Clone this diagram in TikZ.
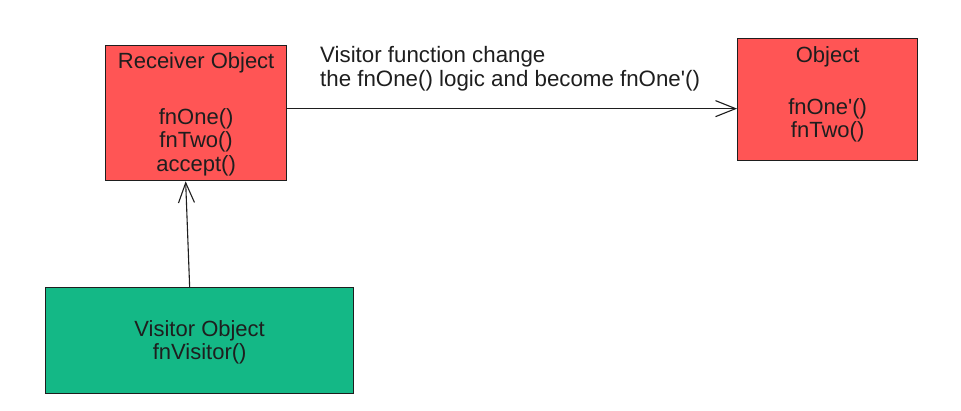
\documentclass[tikz,border=0pt]{standalone}
\usepackage{fontspec}
\setmainfont{Liberation Sans}
\usetikzlibrary{arrows.meta}
\definecolor{boxred}{HTML}{FF5555}
\definecolor{boxgreen}{HTML}{14B886}
\definecolor{ink}{HTML}{1E1E1E}
\begin{document}
\begin{tikzpicture}[x=1pt,y=-1pt,
  box/.style={draw=ink, line width=1.3pt, inner sep=0pt, anchor=north west},
  txt/.style={text=ink, align=center, inner sep=0pt, font=\fontsize{22}{23.5}\selectfont},
  arr/.style={draw=ink, line width=1.1pt, -{Straight Barb[length=20pt,width=16pt]}}]
\fill[white] (0,0) rectangle (961,411);
\useasboundingbox (0,0) rectangle (961,411);
% boxes
\node[box, fill=boxred, minimum width=181pt, minimum height=135pt] (recv) at (105,45) {};
\node[box, fill=boxred, minimum width=180pt, minimum height=122pt] (obj) at (737,38) {};
\node[box, fill=boxgreen, minimum width=308pt, minimum height=106pt] (vis) at (45,287) {};
% box texts
\node[txt, yshift=-1.2pt] (recvtxt) at (recv.center) {Receiver Object\\[32pt]fnOne()\\fnTwo()\\accept()};
\node[txt, yshift=5.3pt] (objtxt) at (obj.center) {Object\\[28.5pt]fnOne\textquotesingle()\\fnTwo()};
\node[txt, yshift=-1.7pt] (vistxt) at (vis.center) {Visitor Object\\fnVisitor()};
% connectors
\path ([yshift=4.5pt]recv.east) coordinate (hstart);
\draw[arr] (hstart) -- (hstart -| obj.west);
\draw[arr] ([xshift=-10pt]vis.north) -- ([xshift=-10.5pt]recv.south);
% label
\node[txt, align=left, anchor=north west, font=\fontsize{22.3}{24.5}\selectfont] (lbl) at (320,46)
  {Visitor function change\\the fnOne() logic and become fnOne\textquotesingle()};
\end{tikzpicture}
\end{document}
